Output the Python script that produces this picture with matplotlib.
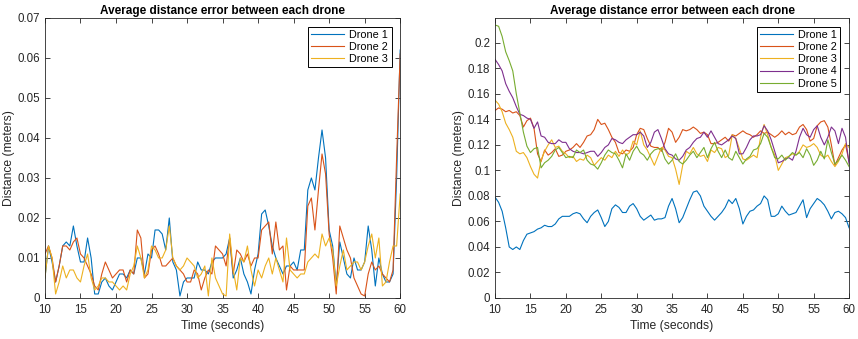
import numpy as np
import matplotlib
matplotlib.use("Agg")
import matplotlib.pyplot as plt

# time axis, 0.5 s steps from 10 to 60
t = np.arange(10, 60.01, 0.5)

# left panel: 3 drones
left_d1 = [0.005, 0.013, 0.009, 0.004, 0.008, 0.013, 0.014, 0.013, 0.018, 0.013,
           0.009, 0.009, 0.015, 0.010, 0.001, 0.001, 0.004, 0.005, 0.003, 0.002,
           0.004, 0.006, 0.006, 0.005, 0.007, 0.006, 0.010, 0.010, 0.006, 0.011,
           0.010, 0.017, 0.017, 0.016, 0.012, 0.020, 0.009, 0.007, 0.0005, 0.004,
           0.005, 0.005, 0.005, 0.009, 0.007, 0.007, 0.006, 0.009, 0.010, 0.010,
           0.010, 0.011, 0.015, 0.005, 0.007, 0.010, 0.006, 0.004, 0.001, 0.007,
           0.011, 0.021, 0.022, 0.018, 0.013, 0.010, 0.008, 0.006, 0.008, 0.008,
           0.009, 0.007, 0.012, 0.012, 0.027, 0.030, 0.027, 0.035, 0.042, 0.035,
           0.017, 0.013, 0.003, 0.014, 0.010, 0.006, 0.005, 0.010, 0.007, 0.007,
           0.009, 0.018, 0.012, 0.003, 0.010, 0.006, 0.004, 0.004, 0.006, 0.030,
           0.062]
left_d2 = [0.011, 0.013, 0.010, 0.004, 0.008, 0.013, 0.013, 0.012, 0.014, 0.015,
           0.011, 0.010, 0.008, 0.006, 0.003, 0.002, 0.006, 0.009, 0.007, 0.005,
           0.006, 0.007, 0.007, 0.004, 0.007, 0.006, 0.017, 0.015, 0.005, 0.006,
           0.012, 0.013, 0.011, 0.008, 0.008, 0.009, 0.010, 0.008, 0.007, 0.006,
           0.004, 0.004, 0.007, 0.006, 0.002, 0.005, 0.007, 0.006, 0.013, 0.012,
           0.011, 0.008, 0.015, 0.006, 0.012, 0.011, 0.009, 0.011, 0.008, 0.010,
           0.010, 0.017, 0.018, 0.019, 0.011, 0.019, 0.012, 0.013, 0.002, 0.008,
           0.007, 0.007, 0.007, 0.007, 0.023, 0.025, 0.017, 0.027, 0.036, 0.031,
           0.016, 0.010, 0.001, 0.018, 0.015, 0.012, 0.010, 0.005, 0.003, 0.001,
           0.0005, 0.006, 0.009, 0.007, 0.008, 0.006, 0.005, 0.004, 0.007, 0.035,
           0.061]
left_d3 = [0.005, 0.013, 0.010, 0.001, 0.004, 0.008, 0.005, 0.007, 0.007, 0.005,
           0.004, 0.008, 0.011, 0.005, 0.002, 0.003, 0.005, 0.005, 0.004, 0.004,
           0.003, 0.002, 0.003, 0.002, 0.006, 0.008, 0.013, 0.010, 0.005, 0.007,
           0.013, 0.012, 0.010, 0.010, 0.012, 0.018, 0.010, 0.008, 0.007, 0.008,
           0.010, 0.009, 0.008, 0.005, 0.006, 0.008, 0.0005, 0.010, 0.005, 0.003,
           0.001, 0.0005, 0.016, 0.007, 0.002, 0.010, 0.009, 0.013, 0.007, 0.003,
           0.007, 0.005, 0.008, 0.010, 0.006, 0.010, 0.007, 0.004, 0.015, 0.007,
           0.006, 0.005, 0.006, 0.006, 0.009, 0.010, 0.011, 0.010, 0.016, 0.013,
           0.015, 0.012, 0.003, 0.008, 0.012, 0.007, 0.008, 0.009, 0.009, 0.007,
           0.009, 0.013, 0.016, 0.010, 0.015, 0.003, 0.004, 0.009, 0.013, 0.013,
           0.026]

# right panel: 5 drones
right_d1 = [0.079, 0.075, 0.068, 0.055, 0.040, 0.038, 0.040, 0.038, 0.045, 0.050,
            0.051, 0.052, 0.054, 0.055, 0.057, 0.056, 0.056, 0.058, 0.062, 0.064,
            0.064, 0.064, 0.066, 0.067, 0.066, 0.062, 0.059, 0.064, 0.067, 0.069,
            0.063, 0.056, 0.060, 0.070, 0.073, 0.071, 0.067, 0.067, 0.072, 0.074,
            0.070, 0.064, 0.061, 0.063, 0.065, 0.061, 0.062, 0.062, 0.063, 0.072,
            0.078, 0.070, 0.059, 0.063, 0.070, 0.077, 0.083, 0.084, 0.080, 0.072,
            0.068, 0.064, 0.061, 0.064, 0.067, 0.071, 0.077, 0.074, 0.078, 0.070,
            0.058, 0.064, 0.068, 0.069, 0.072, 0.074, 0.080, 0.077, 0.064, 0.064,
            0.066, 0.072, 0.068, 0.065, 0.066, 0.067, 0.072, 0.077, 0.063, 0.070,
            0.074, 0.078, 0.076, 0.073, 0.068, 0.062, 0.067, 0.068, 0.066, 0.063,
            0.055]
right_d2 = [0.147, 0.149, 0.148, 0.146, 0.147, 0.145, 0.146, 0.143, 0.134, 0.139,
            0.141, 0.133, 0.113, 0.107, 0.116, 0.112, 0.114, 0.117, 0.111, 0.112,
            0.115, 0.116, 0.118, 0.121, 0.118, 0.122, 0.127, 0.128, 0.132, 0.140,
            0.136, 0.137, 0.132, 0.126, 0.122, 0.114, 0.113, 0.116, 0.115, 0.118,
            0.128, 0.133, 0.132, 0.125, 0.119, 0.118, 0.118, 0.115, 0.122, 0.133,
            0.130, 0.122, 0.126, 0.132, 0.131, 0.132, 0.134, 0.132, 0.129, 0.130,
            0.128, 0.121, 0.121, 0.122, 0.124, 0.126, 0.123, 0.128, 0.127, 0.129,
            0.131, 0.129, 0.128, 0.126, 0.128, 0.131, 0.129, 0.130, 0.128, 0.126,
            0.128, 0.131, 0.128, 0.130, 0.128, 0.129, 0.134, 0.136, 0.132, 0.123,
            0.125, 0.135, 0.138, 0.139, 0.134, 0.120, 0.104, 0.110, 0.116, 0.120,
            0.107]
right_d3 = [0.155, 0.152, 0.146, 0.137, 0.132, 0.126, 0.115, 0.113, 0.114, 0.110,
            0.103, 0.097, 0.094, 0.108, 0.115, 0.120, 0.124, 0.118, 0.119, 0.115,
            0.113, 0.110, 0.111, 0.107, 0.109, 0.108, 0.112, 0.110, 0.104, 0.107,
            0.110, 0.108, 0.112, 0.110, 0.115, 0.111, 0.116, 0.112, 0.114, 0.123,
            0.120, 0.131, 0.120, 0.116, 0.110, 0.104, 0.111, 0.118, 0.116, 0.111,
            0.110, 0.101, 0.089, 0.104, 0.115, 0.113, 0.118, 0.113, 0.111, 0.112,
            0.107, 0.116, 0.114, 0.118, 0.117, 0.110, 0.112, 0.128, 0.125, 0.117,
            0.109, 0.108, 0.110, 0.112, 0.110, 0.126, 0.136, 0.128, 0.118, 0.112,
            0.100, 0.105, 0.110, 0.111, 0.113, 0.112, 0.115, 0.120, 0.118, 0.119,
            0.121, 0.118, 0.112, 0.110, 0.112, 0.107, 0.103, 0.107, 0.113, 0.121,
            0.118]
right_d4 = [0.187, 0.183, 0.178, 0.168, 0.162, 0.157, 0.150, 0.144, 0.143, 0.141,
            0.140, 0.133, 0.138, 0.127, 0.126, 0.122, 0.121, 0.121, 0.124, 0.122,
            0.122, 0.117, 0.115, 0.114, 0.114, 0.113, 0.114, 0.115, 0.115, 0.111,
            0.114, 0.118, 0.120, 0.125, 0.124, 0.122, 0.121, 0.124, 0.126, 0.128,
            0.128, 0.130, 0.127, 0.118, 0.122, 0.130, 0.132, 0.125, 0.117, 0.113,
            0.112, 0.109, 0.108, 0.111, 0.116, 0.118, 0.122, 0.125, 0.126, 0.130,
            0.126, 0.131, 0.126, 0.121, 0.120, 0.122, 0.124, 0.127, 0.125, 0.113,
            0.113, 0.118, 0.124, 0.127, 0.127, 0.128, 0.135, 0.131, 0.124, 0.115,
            0.106, 0.107, 0.109, 0.110, 0.108, 0.115, 0.126, 0.133, 0.128, 0.126,
            0.132, 0.135, 0.126, 0.120, 0.126, 0.134, 0.131, 0.121, 0.133, 0.126,
            0.105]
right_d5 = [0.214, 0.213, 0.205, 0.193, 0.186, 0.178, 0.160, 0.145, 0.130, 0.119,
            0.114, 0.117, 0.118, 0.102, 0.106, 0.108, 0.111, 0.116, 0.118, 0.114,
            0.110, 0.111, 0.110, 0.116, 0.114, 0.116, 0.108, 0.105, 0.104, 0.101,
            0.106, 0.112, 0.116, 0.114, 0.113, 0.108, 0.102, 0.113, 0.108, 0.115,
            0.119, 0.114, 0.112, 0.108, 0.113, 0.116, 0.117, 0.117, 0.109, 0.105,
            0.108, 0.113, 0.107, 0.105, 0.108, 0.112, 0.115, 0.110, 0.114, 0.118,
            0.110, 0.117, 0.122, 0.115, 0.110, 0.116, 0.110, 0.108, 0.115, 0.110,
            0.105, 0.109, 0.111, 0.116, 0.117, 0.121, 0.129, 0.126, 0.118, 0.110,
            0.109, 0.112, 0.108, 0.111, 0.114, 0.112, 0.114, 0.110, 0.117, 0.112,
            0.104, 0.108, 0.115, 0.109, 0.124, 0.114, 0.105, 0.108, 0.112, 0.108,
            0.103]

colors = ["#0072BD", "#D95319", "#EDB120", "#7E2F8E", "#77AC30"]
labels = ["Drone 1", "Drone 2", "Drone 3", "Drone 4", "Drone 5"]
grey = "#262626"

plt.rcParams["font.family"] = ["Liberation Sans", "DejaVu Sans"]

fig = plt.figure(figsize=(8.58, 3.39), dpi=100)
ax1 = fig.add_axes([0.0524, 0.121, 0.414, 0.826])
ax2 = fig.add_axes([0.577, 0.121, 0.4126, 0.826])


def style(ax, ylim, yticks):
    ax.set_xlim(10, 60)
    ax.set_ylim(*ylim)
    ax.set_xticks(range(10, 61, 5))
    ax.set_yticks(yticks)
    ax.set_yticklabels([("%.2f" % v).rstrip("0").rstrip(".") for v in yticks])
    ax.tick_params(direction="in", top=True, right=True, length=3.5, width=0.6,
                   labelsize=8.3, colors=grey)
    ax.tick_params(axis="x", pad=4.5)
    ax.tick_params(axis="y", pad=3.5)
    for s in ax.spines.values():
        s.set_linewidth(0.6)
        s.set_color(grey)
    ax.set_title("Average distance error between each drone", fontsize=8.5,
                 fontweight="bold", color="black", pad=3)
    ax.set_xlabel("Time (seconds)", fontsize=8.7, color=grey, labelpad=3)
    ax.set_ylabel("Distance (meters)", fontsize=8.7, color=grey, labelpad=2)
    leg = ax.legend(loc="upper right", fontsize=7.8, fancybox=False, framealpha=1,
                    edgecolor="black", handlelength=3.0, handletextpad=0.5,
                    borderpad=0.3, labelspacing=0.2, borderaxespad=0.8)
    leg.get_frame().set_linewidth(0.7)


for ys, c, lab in zip([left_d1, left_d2, left_d3], colors, labels):
    ax1.plot(t, ys, color=c, lw=0.8, label=lab)
style(ax1, (0, 0.07), np.arange(0, 0.0701, 0.01))

for ys, c, lab in zip([right_d1, right_d2, right_d3, right_d4, right_d5], colors, labels):
    ax2.plot(t, ys, color=c, lw=0.8, label=lab)
style(ax2, (0, 0.2195), np.arange(0, 0.201, 0.02))

fig.savefig("out.png", dpi=100)
